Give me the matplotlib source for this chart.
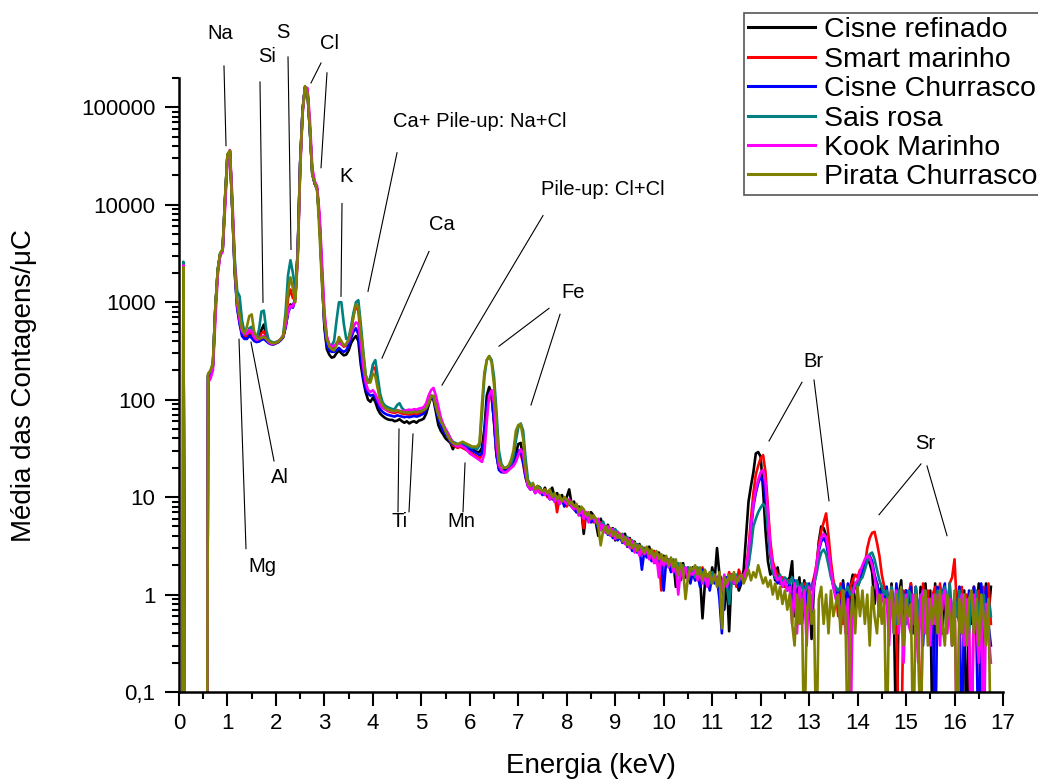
import matplotlib
matplotlib.use("Agg")
import matplotlib.pyplot as plt
import numpy as np
from matplotlib.ticker import FixedLocator, LogLocator, NullFormatter, MultipleLocator

plt.rcParams['font.family'] = ['Liberation Sans', 'DejaVu Sans']

# ---------------- data ----------------
# energy channels (keV): a few points for the low-energy spike, then a 0.05 keV grid 0.60 .. 16.75
energy_pre = [0.0, 0.08, 0.09, 0.12, 0.58]
energy_grid = [round(0.60 + 0.05 * i, 2) for i in range(324)]
energy = energy_pre + energy_grid

series_labels = ["Cisne refinado", "Smart marinho", "Cisne Churrasco",
                 "Sais rosa", "Kook Marinho", "Pirata Churrasco"]
series_colors = ["#000000", "#FF0000", "#0000FF", "#008080", "#FF00FF", "#808000"]

cisne_refinado = [
    0.01, 0.01, 2450, 0.01, 0.01,
    180, 195, 230, 880, 2150, 3150, 3450, 11500, 32500, 35500,
    9200, 2100, 900, 620, 480, 440, 440, 460, 450, 420,
    400, 420, 520, 590, 450, 390, 375, 370, 380, 390,
    410, 440, 560, 800, 950, 900, 1100, 3500, 27000, 95000,
    160000, 148000, 60000, 21000, 16500, 14500, 6500, 1800, 550, 330,
    290, 270, 275, 300, 320, 300, 285, 290, 320, 380,
    420, 450, 400, 230, 160, 120, 100, 95, 105, 95,
    80, 72, 68, 65, 63, 62, 62, 60, 61, 63,
    60, 58, 60, 57, 59, 60, 58, 61, 62, 64,
    72, 88, 105, 100, 75, 55, 48, 44, 40, 38,
    36, 31, 35, 34, 35, 36, 34, 33, 32, 31,
    30, 29, 29, 32, 50, 110, 135, 115, 60, 28,
    20, 19, 19, 19, 20, 21, 23, 28, 35, 36,
    25, 17, 14, 12.5, 13.5, 12, 13, 12.5, 11, 12.5,
    10.5, 11.5, 12.5, 10, 11, 9.5, 10.5, 9, 10, 12,
    8.5, 9, 7, 8, 7.5, 4.2, 7, 6, 7, 6.5,
    5.5, 4.0, 6, 5, 4.5, 5.2, 4.2, 4.8, 3.6, 4.4,
    4.0, 3.6, 4.2, 3.3, 3.8, 3.0, 3.5, 2.9, 3.3, 2.8,
    3.0, 2.6, 3.1, 2.5, 2.8, 2.3, 2.7, 2.2, 2.5, 2.1,
    2.3, 1.8, 2.2, 1.2, 2.0, 1.7, 2.1, 1.5, 1.9, 1.6,
    1.9, 1.4, 1.8, 1.5, 0.57, 1.3, 1.6, 1.2, 1.9, 1.4,
    3.0, 1.6, 1.4, 0.7, 1.5, 0.42, 1.6, 1.3, 1.5, 1.1,
    1.3, 1.8, 4.0, 9.0, 13, 18, 28, 29, 26, 12,
    4.5, 2.2, 1.6, 1.8, 1.4, 1.9, 1.3, 1.5, 1.2, 1.4,
    1.5, 2.2, 0.6, 1.0, 1.5, 0.5, 1.4, 0.8, 1.2, 0.35,
    1.2, 1.8, 3.5, 5.0, 4.8, 4.0, 2.8, 1.9, 1.3, 1.0,
    1.1, 0.5, 1.4, 0.7, 0.4, 1.2, 1.6, 0.6, 1.2, 1.4,
    1.6, 2.0, 2.3, 2.1, 1.7, 0.8, 1.3, 1.0, 1.2, 0.9,
    1.2, 0.5, 1.3, 0.6, 0.02, 1.0, 1.4, 0.4, 1.1, 0.6,
    1.3, 0.5, 1.0, 0.3, 1.2, 0.7, 1.3, 0.5, 1.1, 0.02,
    1.3, 0.5, 1.2, 0.4, 1.1, 0.6, 1.3, 0.3, 1.0, 0.6,
    1.2, 0.4, 1.1, 0.02, 1.0, 0.5, 1.2, 0.6, 1.3, 0.7,
    0.5, 1.3, 0.6, 1.2,
]

smart_marinho = [
    0.01, 0.01, 2450, 0.01, 0.01,
    175, 190, 225, 850, 2100, 3100, 3400, 11000, 32000, 35500,
    9300, 2300, 1000, 800, 500, 450, 450, 500, 480, 430,
    410, 430, 480, 500, 440, 395, 380, 375, 385, 395,
    415, 450, 620, 1100, 1350, 1100, 1150, 3300, 26000, 93000,
    162000, 146000, 59000, 21000, 16500, 14500, 6600, 1900, 620, 380,
    340, 330, 340, 380, 400, 370, 350, 360, 400, 500,
    750, 900, 820, 450, 260, 170, 150, 165, 215, 210,
    140, 100, 86, 80, 77, 75, 74, 73, 75, 74,
    72, 71, 72, 70, 71, 72, 71, 72, 73, 75,
    82, 97, 110, 105, 85, 68, 58, 50, 45, 42,
    37, 34, 33, 32, 33, 32, 31, 30, 29, 28,
    27, 26, 25, 27, 40, 85, 105, 105, 60, 27,
    20, 19, 18, 18, 19, 20, 21, 24, 28, 28,
    22, 16, 13, 12, 13, 11.5, 12, 11, 11.5, 12,
    10, 11, 9.5, 10.5, 7, 10, 9, 9.5, 8, 9,
    8.5, 7.5, 8, 6.5, 7.5, 4.8, 7, 6, 6.5, 5.5,
    6, 5.2, 5.5, 4.6, 5, 4.3, 4.8, 4, 4.5, 3.8,
    4.2, 3.4, 3.9, 3.1, 3.7, 2.9, 3.4, 2.8, 3.1, 2.6,
    3.0, 2.5, 2.9, 2.3, 2.8, 2.2, 2.6, 1.1, 2.4, 2.0,
    2.3, 1.9, 2.2, 1.7, 2.1, 1.5, 1.9, 1.6, 1.8, 1.4,
    1.8, 1.5, 1.7, 1.3, 1.9, 1.4, 1.6, 1.2, 1.7, 1.5,
    1.4, 1.6, 1.2, 1.5, 1.3, 1.7, 1.4, 1.6, 1.2, 1.8,
    1.5, 1.6, 1.8, 3.0, 6.0, 11, 17, 21, 25, 27,
    18, 8, 3.5, 2.2, 1.8, 1.6, 1.3, 1.5, 1.2, 1.4,
    1.4, 0.8, 1.3, 0.6, 1.2, 0.7, 1.3, 0.5, 1.0, 1.2,
    1.5, 2.0, 3.2, 4.5, 5.5, 6.8, 4.0, 2.2, 1.4, 1.1,
    0.6, 1.3, 0.5, 1.1, 0.7, 1.2, 1.4, 1.6, 1.5, 1.8,
    1.6, 2.0, 3.0, 3.8, 4.3, 4.4, 3.4, 2.5, 1.6, 1.2,
    1.1, 0.5, 1.2, 0.6, 0.9, 0.02, 0.02, 1.1, 0.5, 1.0,
    1.3, 0.6, 1.2, 0.5, 0.02, 1.3, 0.6, 1.1, 0.4, 1.0,
    1.2, 0.5, 1.3, 0.7, 1.1, 0.6, 1.3, 1.5, 2.3, 0.7,
    0.5, 1.2, 0.6, 1.0, 0.4, 0.02, 1.2, 0.6, 1.1, 0.02,
    1.2, 0.6, 1.3, 0.5,
]

cisne_churrasco = [
    0.01, 0.01, 2450, 0.01, 0.01,
    170, 185, 220, 850, 2100, 3100, 3400, 11000, 32000, 35500,
    9000, 2000, 870, 600, 450, 420, 420, 450, 430, 400,
    390, 395, 410, 420, 400, 380, 370, 370, 380, 390,
    410, 440, 560, 780, 900, 880, 1100, 3400, 27000, 94000,
    161000, 147000, 59000, 21000, 16500, 14500, 6500, 1800, 580, 360,
    320, 310, 310, 320, 340, 320, 310, 320, 360, 430,
    500, 540, 470, 280, 170, 130, 115, 110, 112, 105,
    92, 80, 75, 72, 70, 69, 68, 67, 69, 68,
    67, 66, 67, 66, 67, 68, 67, 68, 70, 72,
    80, 95, 108, 104, 82, 64, 55, 48, 44, 41,
    37, 35, 34, 34, 35, 34, 33, 32, 31, 30,
    29, 28, 27, 28, 38, 85, 115, 112, 58, 27,
    19, 18, 18, 19, 20, 21, 22, 25, 30, 30,
    23, 16, 13, 12, 12.5, 11, 12, 11.5, 10.5, 11,
    10.5, 9.5, 10, 9, 10, 8.5, 9.5, 8, 9, 8.5,
    8, 7.5, 7, 7.5, 6.5, 7, 6, 6.5, 5.5, 6,
    5.5, 4.8, 5.2, 4.4, 5, 4.1, 4.6, 3.8, 4.3, 3.6,
    3.9, 3.4, 3.7, 3.1, 3.5, 2.8, 3.2, 2.7, 3.0, 1.8,
    2.8, 2.4, 2.7, 2.2, 2.6, 2.1, 2.4, 2.0, 1.1, 2.2,
    2.1, 1.7, 2.0, 1.6, 1.9, 1.4, 1.8, 1.5, 1.7, 1.3,
    1.7, 1.4, 1.6, 1.2, 1.8, 1.3, 1.5, 1.1, 1.6, 1.3,
    1.5, 0.9, 0.4, 1.3, 1.5, 1.1, 1.6, 1.3, 1.4, 1.2,
    1.4, 1.5, 1.7, 2.5, 4.5, 8.0, 11, 14, 16, 15,
    10, 5, 2.5, 1.8, 1.5, 1.3, 1.5, 1.2, 1.4, 1.1,
    1.3, 0.7, 1.4, 0.6, 1.2, 0.5, 1.2, 0.8, 1.3, 0.6,
    1.4, 1.8, 2.8, 3.5, 3.8, 3.4, 2.5, 1.6, 1.2, 1.0,
    1.1, 0.5, 1.3, 0.7, 1.3, 0.4, 1.0, 1.2, 1.3, 1.5,
    1.7, 2.1, 2.4, 2.5, 2.2, 1.6, 1.3, 1.0, 1.1, 0.9,
    1.2, 0.5, 1.1, 0.4, 1.3, 0.6, 1.2, 0.5, 1.1, 0.8,
    1.2, 0.4, 1.2, 0.6, 1.0, 0.3, 1.1, 0.6, 0.8, 1.0,
    0.02, 1.2, 0.5, 1.0, 1.3, 0.5, 1.1, 0.4, 1.0, 0.6,
    1.2, 0.02, 1.0, 0.5, 1.1, 0.6, 1.2, 0.4, 0.02, 1.3,
    0.6, 1.2, 0.5, 0.3,
]

sais_rosa = [
    0.01, 0.01, 2600, 0.01, 0.01,
    180, 195, 235, 880, 2150, 3150, 3450, 11500, 32500, 35500,
    9500, 2800, 1300, 1150, 650, 490, 470, 540, 560, 460,
    430, 520, 800, 820, 520, 410, 395, 385, 390, 400,
    420, 460, 800, 1900, 2700, 2000, 1300, 3200, 26000, 92000,
    163000, 145000, 58000, 21000, 16500, 14500, 6800, 2100, 720, 420,
    370, 360, 400, 650, 1000, 1000, 600, 420, 430, 560,
    780, 1000, 1050, 600, 320, 180, 150, 170, 230, 255,
    170, 115, 94, 87, 84, 82, 80, 80, 88, 92,
    82, 78, 77, 76, 77, 76, 77, 76, 77, 79,
    84, 95, 110, 108, 88, 72, 62, 55, 49, 45,
    40, 37, 36, 35, 35, 36, 35, 34, 33, 32,
    32, 31, 34, 70, 170, 255, 280, 255, 170, 75,
    30, 22, 20, 20, 21, 22, 26, 38, 52, 57,
    48, 25, 15, 13.5, 13, 12.5, 12, 12.5, 11, 11.5,
    11, 10.5, 10.8, 9.8, 10, 9.5, 9.2, 9.6, 8.8, 8.5,
    8.6, 8.2, 7.8, 7.5, 7.6, 7.0, 6.8, 6.5, 6.2, 6.4,
    5.8, 5.5, 5.2, 5.6, 4.8, 5.0, 4.6, 4.4, 4.7, 4.1,
    4.0, 4.2, 3.7, 3.9, 3.4, 3.6, 3.2, 3.3, 3.0, 3.1,
    2.9, 3.0, 2.7, 2.8, 2.5, 2.7, 2.4, 2.5, 2.2, 2.4,
    2.2, 2.0, 2.3, 1.9, 2.1, 1.7, 2.0, 1.8, 1.9, 1.6,
    1.8, 1.5, 1.9, 1.6, 1.7, 1.4, 1.6, 1.3, 1.7, 1.5,
    1.4, 1.6, 1.2, 1.5, 1.3, 0.8, 1.4, 1.5, 1.6, 1.4,
    1.5, 1.6, 1.7, 2.0, 3.0, 5.0, 6.0, 7.0, 7.8, 8.5,
    8.0, 5.0, 2.6, 1.7, 1.5, 1.4, 1.6, 1.3, 1.5, 1.4,
    1.3, 1.5, 1.2, 1.4, 1.1, 1.3, 1.0, 1.3, 1.1, 1.2,
    1.3, 1.6, 2.2, 2.7, 2.9, 2.6, 2.0, 1.5, 1.3, 1.2,
    1.1, 1.2, 1.0, 1.1, 1.2, 1.0, 1.1, 1.3, 1.2, 1.4,
    1.5, 1.8, 2.2, 2.6, 2.7, 2.3, 1.8, 1.4, 1.2, 1.0,
    1.1, 0.6, 1.2, 0.7, 0.5, 1.1, 0.6, 1.0, 0.5, 1.1,
    1.0, 0.5, 1.2, 0.6, 1.0, 0.4, 1.1, 0.6, 0.8, 1.0,
    0.6, 1.1, 0.5, 1.0, 1.2, 0.6, 1.3, 0.5, 1.0, 0.6,
    1.1, 0.5, 1.0, 0.6, 0.4, 1.0, 0.5, 1.1, 0.6, 0.4,
    1.0, 0.5, 0.9, 0.6,
]

kook_marinho = [
    0.01, 0.01, 2400, 0.01, 0.01,
    150, 165, 200, 650, 1900, 3000, 3300, 9000, 29000, 36500,
    12000, 2500, 950, 660, 500, 470, 480, 520, 500, 440,
    410, 420, 440, 450, 420, 390, 375, 375, 385, 395,
    420, 450, 580, 800, 920, 900, 1100, 2800, 22000, 85000,
    160000, 158000, 75000, 24000, 17500, 15500, 8000, 2500, 800, 450,
    370, 350, 360, 370, 380, 370, 360, 370, 400, 470,
    560, 620, 600, 380, 220, 150, 125, 120, 125, 115,
    100, 88, 82, 80, 78, 77, 76, 76, 78, 77,
    76, 77, 78, 79, 78, 80, 79, 81, 82, 84,
    92, 110, 125, 132, 110, 85, 66, 56, 50, 45,
    40, 36, 34, 33, 34, 33, 32, 30, 28, 27,
    26, 25, 24, 23, 28, 60, 110, 125, 90, 35,
    21, 19, 18, 18, 19, 20, 21, 23, 27, 31,
    28, 18, 13, 12, 12.5, 11, 12, 11, 11.5, 10.5,
    11.5, 9.5, 10.5, 9, 10, 8.5, 9.5, 9, 8.5, 9.5,
    8, 7.5, 8.5, 6.5, 7.5, 6, 7, 5.5, 6.5, 6,
    5.5, 6, 4.6, 5.2, 4.3, 5, 4, 4.7, 3.7, 4.4,
    3.8, 4.1, 3.3, 3.8, 3.0, 3.5, 2.7, 3.2, 2.5, 3.0,
    2.6, 2.9, 2.3, 2.7, 2.1, 2.5, 1.5, 2.4, 2.0, 2.3,
    1.9, 2.2, 1.7, 2.0, 1.0, 1.8, 1.5, 1.9, 1.4, 1.7,
    1.6, 1.8, 1.4, 1.7, 1.3, 1.6, 1.2, 1.5, 1.4, 1.6,
    1.3, 1.5, 1.1, 1.6, 1.2, 1.4, 1.6, 1.3, 1.5, 1.4,
    1.6, 1.5, 1.8, 2.8, 5.0, 8.5, 12, 15, 18, 19,
    14, 7, 3.0, 2.0, 1.6, 1.4, 1.5, 1.2, 1.4, 1.1,
    1.2, 0.5, 1.3, 0.4, 1.2, 0.6, 1.1, 0.3, 1.2, 0.7,
    1.3, 2.0, 3.0, 3.8, 4.2, 3.9, 2.8, 1.8, 1.2, 0.9,
    1.0, 0.5, 1.1, 0.4, 0.9, 0.02, 1.0, 1.3, 1.4, 1.7,
    2.0, 2.3, 2.5, 2.4, 2.0, 1.5, 1.1, 0.6, 1.0, 0.8,
    0.9, 0.3, 1.1, 0.5, 1.1, 0.4, 0.9, 0.2, 1.0, 0.5,
    0.4, 1.0, 0.6, 0.2, 0.9, 1.1, 0.4, 0.9, 0.3, 1.0,
    0.5, 1.0, 0.3, 0.9, 1.1, 0.4, 0.9, 0.3, 1.0, 0.02,
    0.5, 1.0, 0.3, 0.9, 0.4, 0.02, 1.0, 0.5, 0.2, 0.9,
    0.02, 0.8, 0.4, 0.2,
]

pirata_churrasco = [
    0.01, 0.01, 2300, 0.01, 0.01,
    185, 200, 240, 900, 2200, 3200, 3500, 12000, 33000, 36000,
    9000, 2200, 1000, 750, 530, 480, 560, 720, 750, 500,
    440, 420, 430, 440, 420, 400, 385, 380, 385, 395,
    420, 450, 700, 1300, 1800, 1400, 1000, 3000, 25000, 90000,
    165000, 140000, 60000, 20000, 17000, 14000, 5000, 1500, 650, 420,
    350, 330, 320, 360, 440, 400, 360, 370, 420, 520,
    700, 950, 900, 500, 300, 180, 150, 150, 185, 175,
    130, 100, 88, 82, 80, 78, 77, 76, 78, 76,
    75, 74, 74, 73, 74, 75, 74, 75, 76, 78,
    82, 92, 108, 110, 85, 70, 60, 54, 47, 42,
    38, 36, 35, 35, 36, 37, 36, 35, 34, 33,
    33, 33, 36, 90, 190, 255, 280, 240, 140, 60,
    24, 21, 20, 20, 21, 24, 30, 48, 55, 56,
    40, 20, 14, 13, 14, 12, 13, 12, 11.5, 12,
    11, 12, 10, 11, 9.5, 10.5, 9, 10, 9.5, 8.5,
    9, 8, 8.5, 7, 8, 7.5, 6.5, 7, 6, 6.5,
    6, 5, 3.2, 4.5, 5, 4.2, 4.8, 4, 4.4, 3.8,
    4.2, 3.5, 3.9, 3.2, 3.6, 3.0, 3.4, 2.8, 3.2, 3.0,
    2.7, 3.1, 2.6, 2.9, 2.4, 2.8, 2.3, 2.6, 2.2, 2.5,
    2.0, 2.4, 1.9, 2.3, 1.6, 2.1, 1.8, 0.9, 1.5, 1.9,
    1.8, 2.0, 1.6, 1.9, 1.4, 1.8, 1.5, 1.7, 1.3, 1.6,
    1.2, 1.7, 0.45, 1.5, 1.3, 1.6, 1.4, 1.7, 1.3, 1.5,
    1.6, 1.3, 1.5, 1.8, 1.4, 1.7, 1.5, 2.0, 1.6, 1.3,
    1.5, 1.2, 1.4, 1.0, 1.3, 0.9, 1.2, 0.8, 1.1, 0.7,
    1.0, 0.5, 0.3, 1.0, 0.5, 0.9, 0.02, 0.6, 1.1, 0.5,
    0.7, 0.02, 0.9, 1.2, 0.5, 1.0, 0.4, 1.1, 0.6, 0.8,
    1.0, 0.4, 1.1, 0.6, 0.02, 0.5, 1.0, 0.4, 1.2, 0.6,
    1.1, 0.5, 1.0, 0.3, 1.2, 0.6, 0.4, 1.0, 0.5, 0.9,
    0.02, 0.9, 1.1, 0.4, 1.0, 0.5, 1.2, 0.3, 0.9, 0.6,
    0.8, 0.02, 1.0, 0.4, 0.02, 0.9, 1.1, 0.3, 0.9, 0.5,
    1.0, 0.4, 1.1, 0.5, 0.3, 1.0, 0.6, 0.3, 1.1, 0.02,
    0.9, 0.4, 1.0, 0.3, 0.9, 1.1, 0.4, 0.9, 0.3, 1.0,
    0.6, 0.3, 0.9, 0.02,
]

series_values = [cisne_refinado, smart_marinho, cisne_churrasco,
                 sais_rosa, kook_marinho, pirata_churrasco]

# peak annotations: label, text position (keV, counts), connector segments
annotations = [
    ("Na", (0.846, 5.79e5), [((0.928, 2.66e5), (0.970, 4.04e4))]),
    ("Si", (1.816, 3.29e5), [((1.671, 1.82e5), (1.733, 998))]),
    ("S", (2.146, 5.93e5), [((2.249, 3.29e5), (2.311, 3478))]),
    ("Cl", (3.095, 4.47e5), [((2.930, 2.85e5), (2.723, 1.78e5)),
                             ((3.053, 2.26e5), (2.930, 2.40e4))]),
    ("K", (3.445, 1.94e4), [((3.363, 1.03e4), (3.342, 1149))]),
    ("Ca+ Pile-up: Na+Cl", (6.210, 7.11e4), [((4.498, 3.42e4), (3.899, 1294))]),
    ("Ca", (5.426, 6270), [((5.158, 3319), (4.188, 267))]),
    ("Pile-up: Cl+Cl", (8.748, 1.43e4), [((7.510, 7750), (5.426, 141))]),
    ("Fe", (8.129, 1262), [((7.634, 866), (6.602, 354)),
                           ((7.861, 752), (7.262, 88.1))]),
    ("Mg", (1.712, 1.93), [((1.238, 417), (1.382, 2.96))]),
    ("Al", (2.084, 15.8), [((1.485, 389), (1.960, 23.5))]),
    ("Ti", (4.560, 5.59), [((4.539, 50.0), (4.518, 7.07)),
                           ((4.828, 44.5), (4.745, 7.07))]),
    ("Mn", (5.818, 5.59), [((5.901, 22.4), (5.859, 7.07))]),
    ("Br", (13.080, 248), [((12.853, 151), (12.173, 37.7)),
                           ((13.101, 159), (13.410, 9.17))]),
    ("Sr", (15.391, 35.1), [((15.308, 21.9), (14.442, 6.59)),
                            ((15.432, 20.9), (15.845, 4.02))]),
]

y_ticks = [0.1, 1, 10, 100, 1000, 10000, 100000]
y_ticklabels = ["0,1", "1", "10", "100", "1000", "10000", "100000"]

# ---------------- figure ----------------
W, H = 1038, 780
fig = plt.figure(figsize=(W / 100, H / 100), dpi=100)
ax = fig.add_axes([179 / W, 1 - 692 / H, (1003 - 179) / W, (692 - 78) / H])

for name, vals, col in zip(series_labels, series_values, series_colors):
    assert len(vals) == len(energy), (name, len(vals), len(energy))
    ax.plot(energy, vals, color=col, lw=1.9, label=name, solid_joinstyle='round')

ax.set_yscale('log')

for lab, (tx, ty), segs in annotations:
    ax.text(tx, ty, lab, ha='center', va='center', fontsize=14.5, clip_on=False)
    for (x0, y0), (x1, y1) in segs:
        ax.plot([x0, x1], [y0, y1], color='black', lw=0.8, clip_on=False)

ax.set_xlim(0, 17)
ax.set_ylim(0.1, 2e5)

ax.xaxis.set_major_locator(MultipleLocator(1))
ax.xaxis.set_minor_locator(MultipleLocator(0.5))
ax.yaxis.set_major_locator(FixedLocator(y_ticks))
ax.set_yticklabels(y_ticklabels)
ax.yaxis.set_minor_locator(LogLocator(base=10, subs=np.arange(2, 10), numticks=30))
ax.yaxis.set_minor_formatter(NullFormatter())

ax.tick_params(which='major', direction='out', length=10, width=1.5, labelsize=16, pad=5)
ax.tick_params(axis='y', which='major', pad=7)
ax.tick_params(which='minor', direction='out', length=5, width=1.5)

for s in ['top', 'right']:
    ax.spines[s].set_visible(False)
for s in ['left', 'bottom']:
    ax.spines[s].set_linewidth(1.8)

ax.set_xlabel("Energia (keV)", fontsize=20, labelpad=14)
ax.set_ylabel("Média das Contagens/μC", fontsize=20, labelpad=32)

leg = ax.legend(loc='upper left', bbox_to_anchor=(744 / W, 1 - 13 / H),
                bbox_transform=fig.transFigure, fontsize=20.5, frameon=True,
                fancybox=False, edgecolor='#555555', framealpha=1,
                borderpad=0.15, labelspacing=0.12, handlelength=2.35,
                handletextpad=0.3, borderaxespad=0)
leg.get_frame().set_linewidth(1.2)
for h in leg.get_lines():
    h.set_linewidth(2.2)

fig.savefig("out.png", dpi=100)
